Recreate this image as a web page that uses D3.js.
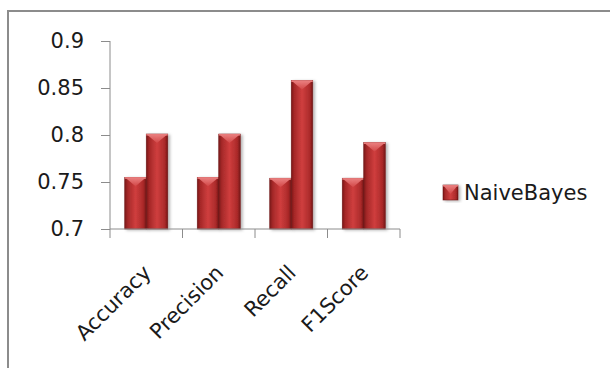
<!DOCTYPE html>
<html>
<head>
<meta charset="utf-8">
<script src="https://cdn.jsdelivr.net/npm/d3@7"></script>
<style>
  body { margin: 0; background: #fff; }
  text { font-family: "DejaVu Sans", sans-serif; fill: #1a1a1a; }
</style>
</head>
<body>
<svg id="chart" width="610" height="368"></svg>
<script>
// values, two bars per metric, same series
var categories = ["Accuracy", "Precision", "Recall", "F1Score"];
var runA = [0.755, 0.755, 0.754, 0.754];
var runB = [0.801, 0.801, 0.858, 0.792];
var yTicks = [0.7, 0.75, 0.8, 0.85, 0.9];
var seriesName = "NaiveBayes";

var svg = d3.select("#chart");

// outer frame (runs off the right and bottom edge)
svg.append("rect")
	.attr("x", 8).attr("y", 11)
	.attr("width", 640).attr("height", 400)
	.attr("fill", "none").attr("stroke", "#8c8c8c").attr("stroke-width", 2);

var defs = svg.append("defs");
var grad = defs.append("linearGradient").attr("id", "barGrad")
	.attr("x1", "0%").attr("x2", "100%").attr("y1", "0%").attr("y2", "0%");
[["0%", "#7a1717"], ["14%", "#a52828"], ["50%", "#cf3e3e"], ["86%", "#ab2a2a"], ["100%", "#761616"]]
	.forEach(function(s){ grad.append("stop").attr("offset", s[0]).attr("stop-color", s[1]); });
var topGrad = defs.append("linearGradient").attr("id", "topGrad")
	.attr("x1", "0%").attr("x2", "0%").attr("y1", "0%").attr("y2", "100%");
topGrad.append("stop").attr("offset", "0%").attr("stop-color", "#f08a8a");
topGrad.append("stop").attr("offset", "100%").attr("stop-color", "#d24848");
var shadow = defs.append("filter").attr("id", "shadow")
	.attr("x", "-20%").attr("y", "-10%").attr("width", "150%").attr("height", "130%");
shadow.append("feDropShadow").attr("dx", 2).attr("dy", 1).attr("stdDeviation", 1.5)
	.attr("flood-color", "#000").attr("flood-opacity", 0.3);

var x0 = d3.scaleBand().domain(categories).range([110, 400])
	.paddingInner(0.407).paddingOuter(0.2035);
var x1 = d3.scaleBand().domain([0, 1]).range([0, x0.bandwidth()]);
var y = d3.scaleLinear().domain([0.7, 0.9]).range([229, 41]);

// y axis
var yAxis = svg.append("g").attr("transform", "translate(110,0)")
	.call(d3.axisLeft(y).tickValues(yTicks).tickSize(9).tickPadding(17)
		.tickFormat(function(d){ return d3.format("")(+d.toFixed(2)); }));
yAxis.select(".domain").attr("stroke", "#8c8c8c").attr("d", "M0," + y(0.9) + "V" + y(0.7));
yAxis.selectAll(".tick line").attr("stroke", "#8c8c8c");
yAxis.selectAll(".tick text").attr("font-size", 21).attr("font-family", "DejaVu Sans").attr("fill", "#1a1a1a");

// bars
var rows = categories.map(function(c, i){ return {cat: c, vals: [runA[i], runB[i]]}; });
var groups = svg.selectAll(".grp").data(rows).enter().append("g")
	.attr("class", "grp")
	.attr("transform", function(d){ return "translate(" + x0(d.cat) + ",0)"; });

function drawBar(sel, bx, by, bw, bh){
	var g = sel.append("g").attr("filter", "url(#shadow)");
	g.append("rect").attr("x", bx).attr("y", by).attr("width", bw).attr("height", bh)
		.attr("fill", "url(#barGrad)").attr("stroke", "#6e1414").attr("stroke-width", 0.6);
	var cap = Math.min(9, bh);
	g.append("path")
		.attr("d", "M" + bx + "," + by + "H" + (bx + bw) + "L" + (bx + bw / 2) + "," + (by + cap) + "Z")
		.attr("fill", "url(#topGrad)").attr("opacity", 0.9);
	g.append("rect").attr("x", bx).attr("y", by).attr("width", bw).attr("height", 1.5)
		.attr("fill", "#e77a7a");
}

groups.each(function(d){
	var g = d3.select(this);
	d.vals.forEach(function(v, k){
		drawBar(g, x1(k), y(v), x1.bandwidth(), y(0.7) - y(v));
	});
});

// x axis
var xAxis = svg.append("g").attr("transform", "translate(0," + y(0.7) + ")");
xAxis.append("line").attr("x1", 110).attr("x2", 400).attr("stroke", "#8c8c8c");
var xTickPos = categories.map(function(c){ return x0(c) - x0.step() * x0.paddingInner() / 2; });
xTickPos.push(400);
xAxis.selectAll(".xt").data(xTickPos).enter().append("line")
	.attr("x1", function(d){ return d; }).attr("x2", function(d){ return d; })
	.attr("y1", 0).attr("y2", 9).attr("stroke", "#8c8c8c");

svg.selectAll(".xlab").data(categories).enter().append("text")
	.attr("class", "xlab")
	.attr("text-anchor", "end")
	.attr("font-size", 21)
	.attr("transform", function(d){
		return "translate(" + (x0(d) + x0.bandwidth() / 2 + 6) + ",274) rotate(-45)";
	})
	.text(function(d){ return d; });

// legend
var leg = svg.append("g").attr("transform", "translate(443,185)");
drawBar(leg, 0, 0, 15, 15);
leg.append("text").attr("x", 21).attr("y", 15).attr("font-size", 21).text(seriesName);
</script>
</body>
</html>
